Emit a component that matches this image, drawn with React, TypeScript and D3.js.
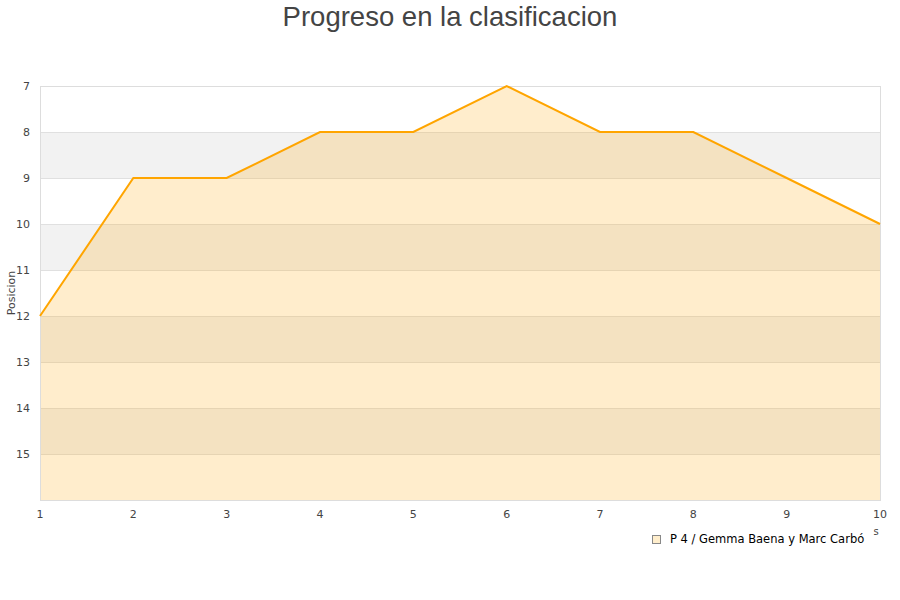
import { useEffect, useRef } from "react";
import * as d3 from "d3";

const jornadas = [1, 2, 3, 4, 5, 6, 7, 8, 9, 10];
const posiciones = [12, 9, 9, 8, 8, 7, 8, 8, 9, 10];
const yTicks = [7, 8, 9, 10, 11, 12, 13, 14, 15];
const bandStarts = [8, 10, 12, 14];
const serieNombre = "P 4 / Gemma Baena y Marc Carbó";

export default function App() {
  const svgRef = useRef<SVGSVGElement>(null);

  useEffect(() => {
    if (!svgRef.current) return;
    const width = 900;
    const height = 600;
    const margin = { top: 86, right: 20, bottom: 100, left: 40 };
    const innerWidth = width - margin.left - margin.right;
    const innerHeight = height - margin.top - margin.bottom;

    d3.select(svgRef.current).selectAll("*").remove();
    const svg = d3.select(svgRef.current)
      .attr("width", width)
      .attr("height", height)
      .style("font-family", "'DejaVu Sans', sans-serif");

    svg.append("rect").attr("width", width).attr("height", height).attr("fill", "#fff");

    const g = svg.append("g").attr("transform", `translate(${margin.left},${margin.top})`);

    const x = d3.scaleLinear().domain([1, 10]).range([0, innerWidth]);
    const y = d3.scaleLinear().domain([7, 16]).range([0, innerHeight]);

    // alternating bands
    g.selectAll("rect.band")
      .data(bandStarts)
      .join("rect")
      .attr("class", "band")
      .attr("x", 0)
      .attr("width", innerWidth)
      .attr("y", d => y(d))
      .attr("height", d => y(d + 1) - y(d))
      .attr("fill", "#f2f2f2");

    // grid
    g.selectAll("line.grid")
      .data(d3.range(8, 16))
      .join("line")
      .attr("class", "grid")
      .attr("x1", 0)
      .attr("x2", innerWidth)
      .attr("y1", d => y(d) + 0.5)
      .attr("y2", d => y(d) + 0.5)
      .attr("stroke", "#e0e0e0")
      .attr("stroke-width", 1);

    // area
    const area = d3.area<number>()
      .x((_, i) => x(jornadas[i]))
      .y0(y(16))
      .y1(d => y(d));
    g.append("path")
      .datum(posiciones)
      .attr("d", area)
      .attr("fill", "#ffa500")
      .attr("fill-opacity", 0.2);

    // frame
    g.append("rect")
      .attr("x", 0.5)
      .attr("y", 0.5)
      .attr("width", innerWidth)
      .attr("height", innerHeight)
      .attr("fill", "none")
      .attr("stroke", "#dddddd");

    const line = d3.line<number>()
      .x((_, i) => x(jornadas[i]))
      .y(d => y(d));
    g.append("path")
      .datum(posiciones)
      .attr("d", line)
      .attr("fill", "none")
      .attr("stroke", "#ffa500")
      .attr("stroke-width", 2);

    // y ticks
    g.selectAll("text.ytick")
      .data(yTicks)
      .join("text")
      .attr("class", "ytick")
      .attr("x", -10)
      .attr("y", d => y(d) + 4)
      .attr("text-anchor", "end")
      .attr("font-size", 11)
      .attr("fill", "#444")
      .text(d => d);

    // x ticks
    g.selectAll("text.xtick")
      .data(jornadas)
      .join("text")
      .attr("class", "xtick")
      .attr("x", d => x(d))
      .attr("y", innerHeight + 18)
      .attr("text-anchor", "middle")
      .attr("font-size", 11)
      .attr("fill", "#444")
      .text(d => d);

    svg.append("text")
      .attr("transform", `translate(15,${margin.top + innerHeight / 2}) rotate(-90)`)
      .attr("text-anchor", "middle")
      .attr("font-size", 11)
      .attr("fill", "#444")
      .text("Posicion");

    svg.append("text")
      .attr("x", 876)
      .attr("y", 535)
      .attr("text-anchor", "middle")
      .attr("font-size", 10)
      .attr("fill", "#444")
      .text("s");

    svg.append("text")
      .attr("x", width / 2)
      .attr("y", 26)
      .attr("text-anchor", "middle")
      .attr("font-size", 27.5)
      .attr("fill", "#444")
      .style("font-family", "'Liberation Sans', Arial, sans-serif")
      .text("Progreso en la clasificacion");

    // legend
    const legend = svg.append("g").attr("transform", "translate(652,535)");
    legend.append("rect")
      .attr("x", 0.5)
      .attr("y", 0.5)
      .attr("width", 8)
      .attr("height", 8)
      .attr("fill", "#ffeecc")
      .attr("stroke", "#888");
    legend.append("text")
      .attr("x", 18)
      .attr("y", 8)
      .attr("font-size", 11.5)
      .attr("fill", "#000")
      .text(serieNombre);
  }, []);

  return (
    <div style={{ position: "absolute", left: 0, top: 0, width: 900, height: 600, overflow: "hidden" }}>
      <svg ref={svgRef} style={{ display: "block" }} />
    </div>
  );
}
